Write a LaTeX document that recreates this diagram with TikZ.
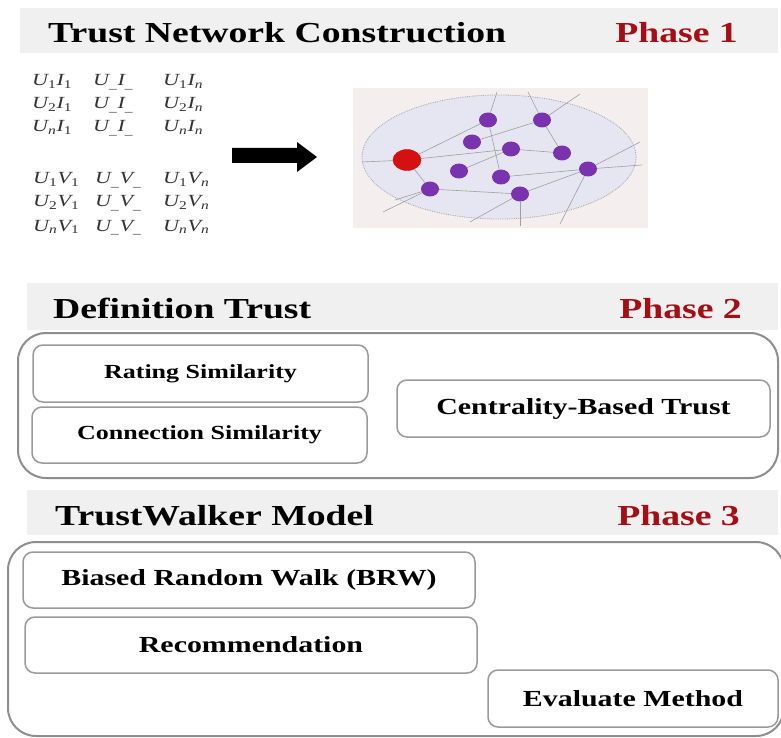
\documentclass[tikz,border=0pt]{standalone}
\usepackage{fontspec}
\setmainfont{Liberation Serif}
\usepackage{graphicx}
\usetikzlibrary{shapes.geometric}
\definecolor{barfill}{HTML}{F0F0F0}
\definecolor{phasered}{HTML}{A50E14}
\definecolor{framegray}{HTML}{8E8E8E}
\definecolor{boxline}{HTML}{9A9A9A}
\definecolor{netbg}{HTML}{F4EEEE}
\definecolor{netfill}{HTML}{E6E6F3}
\definecolor{dotpurple}{HTML}{7A33AE}
\definecolor{dotred}{HTML}{D41010}
\newcommand\sxt[2][1.3]{\scalebox{#1}[1]{#2}}
\newcommand\sbd[1]{\textsubscript{\upshape #1}}
\begin{document}
\begin{tikzpicture}[x=1pt,y=-1pt,
 bar/.style={fill=barfill, draw=none},
 head/.style={font=\fontsize{29}{34}\selectfont\bfseries, inner sep=0, anchor=base west},
 phase/.style={head, anchor=base east, text=phasered},
 stepbox/.style={draw=boxline, line width=1.5pt, rounded corners=10pt, fill=white, inner sep=0},
 smalltxt/.style={font=\fontsize{20}{24}\selectfont\bfseries},
 bigtxt/.style={font=\fontsize{23}{27}\selectfont\bfseries},
 outer/.style={draw=framegray, line width=2pt, rounded corners=28pt},
 mat/.style={font=\fontsize{17}{20}\selectfont\itshape, inner sep=0, anchor=base west, text=black!80},
 pdot/.style={ellipse, fill=dotpurple, minimum width=18pt, minimum height=15pt, inner sep=0},
 rdot/.style={ellipse, fill=dotred, draw=red!85!black, minimum width=28pt, minimum height=21pt, inner sep=0},
 edge/.style={draw=gray!75, line width=0.6pt}
]
\useasboundingbox (0,0) rectangle (781,738);
\clip (0,0) rectangle (781,738);
\fill[white] (0,0) rectangle (781,738);

% ---------- Phase 1 ----------
\fill[bar] (20,8) rectangle (778,53);
\node[head] (h1) at (48,43) {\sxt{Trust Network Construction}};
\node[phase] (ph1) at (738,43) {\sxt{Phase 1}};

% matrices
\node[mat] (a11) at (32,86)  {\sxt{U\sbd{1}I\sbd{1}}};
\node[mat] (a12) at (93,86)  {\sxt{U\textsubscript{\_}I\textsubscript{\_}}};
\node[mat] (a13) at (163,86) {\sxt{U\sbd{1}I\textsubscript{n}}};
\node[mat] (a21) at (32,109)  {\sxt{U\sbd{2}I\sbd{1}}};
\node[mat] (a22) at (93,109)  {\sxt{U\textsubscript{\_}I\textsubscript{\_}}};
\node[mat] (a23) at (163,109) {\sxt{U\sbd{2}I\textsubscript{n}}};
\node[mat] (a31) at (32,132)  {\sxt{U\textsubscript{n}I\sbd{1}}};
\node[mat] (a32) at (93,132)  {\sxt{U\textsubscript{\_}I\textsubscript{\_}}};
\node[mat] (a33) at (163,132) {\sxt{U\textsubscript{n}I\textsubscript{n}}};

\node[mat] (b11) at (33,184)  {\sxt{U\sbd{1}V\sbd{1}}};
\node[mat] (b12) at (95,184)  {\sxt{U\textsubscript{\_}V\textsubscript{\_}}};
\node[mat] (b13) at (163,184) {\sxt{U\sbd{1}V\textsubscript{n}}};
\node[mat] (b21) at (33,207)  {\sxt{U\sbd{2}V\sbd{1}}};
\node[mat] (b22) at (95,207)  {\sxt{U\textsubscript{\_}V\textsubscript{\_}}};
\node[mat] (b23) at (163,207) {\sxt{U\sbd{2}V\textsubscript{n}}};
\node[mat] (b31) at (33,231)  {\sxt{U\textsubscript{n}V\sbd{1}}};
\node[mat] (b32) at (95,231)  {\sxt{U\textsubscript{\_}V\textsubscript{\_}}};
\node[mat] (b33) at (163,231) {\sxt{U\textsubscript{n}V\textsubscript{n}}};

% big arrow
\fill[black] (232,148) -- (297,148) -- (297,142) -- (317,157) -- (297,172) -- (297,163) -- (232,163) -- cycle;

% network picture
\fill[netbg] (353,88) rectangle (648,228);
\draw[gray!70, densely dotted, line width=0.8pt, fill=netfill] (499,157) ellipse [x radius=137, y radius=62];

\coordinate (e1) at (497,92);
\coordinate (e2) at (580,94);
\coordinate (e3) at (528,92);
\coordinate (e4) at (642,165);
\coordinate (e5) at (640,142);
\coordinate (e6) at (383,212);
\coordinate (e7) at (395,200);
\coordinate (e8) at (520,226);
\coordinate (e9) at (470,222);
\coordinate (e10) at (362,162);
\coordinate (e11) at (560,224);

\path (407,160) node[rdot] (r) {};
\path (488,120) node[pdot] (p1) {}
      (542,120) node[pdot] (p2) {}
      (472,142) node[pdot] (p3) {}
      (511,149) node[pdot] (p4) {}
      (562,153) node[pdot] (p5) {}
      (459,171) node[pdot] (p6) {}
      (501,177) node[pdot] (p7) {}
      (588,169) node[pdot] (p8) {}
      (430,189) node[pdot] (p9) {}
      (520,194) node[pdot] (p10) {};

\draw[edge] (r) -- (p4);
\draw[edge] (r) -- (p1);
\draw[edge] (r) -- (p9);
\draw[edge] (r) -- (e10);
\draw[edge] (p1) -- (e1);
\draw[edge] (p1) -- (p7);
\draw[edge] (p2) -- (e2);
\draw[edge] (p2) -- (e3);
\draw[edge] (p2) -- (p3);
\draw[edge] (p2) -- (p5);
\draw[edge] (p4) -- (p5);
\draw[edge] (p4) -- (p6);
\draw[edge] (p7) -- (p8);
\draw[edge] (p8) -- (e4);
\draw[edge] (p8) -- (e5);
\draw[edge] (p9) -- (p10);
\draw[edge] (p9) -- (e6);
\draw[edge] (p9) -- (e7);
\draw[edge] (p10) -- (p8);
\draw[edge] (p10) -- (e8);
\draw[edge] (p10) -- (e9);
\draw[edge] (p8) -- (e11);

% ---------- Phase 2 ----------
\fill[bar] (27,283) rectangle (778,330);
\node[head] (h2) at (53,318) {\sxt{Definition Trust}};
\node[phase] (ph2) at (742,318) {\sxt{Phase 2}};
\draw[outer] (18,333) rectangle (778,478);
\node[stepbox, smalltxt, minimum width=335pt, minimum height=57pt] (rs) at (200.5,373.5) {\sxt{Rating Similarity}};
\node[stepbox, smalltxt, minimum width=335pt, minimum height=56pt] (cs) at (199.5,435) {\sxt{Connection Similarity}};
\node[stepbox, bigtxt, minimum width=373pt, minimum height=57pt] (cb) at (583.5,408.5) {\sxt{Centrality-Based Trust}};

% ---------- Phase 3 ----------
\fill[bar] (27,490) rectangle (778,535);
\node[head] (h3) at (55,525) {\sxt{TrustWalker Model}};
\node[phase] (ph3) at (740,525) {\sxt{Phase 3}};
\draw[outer] (8,542) rectangle (784,736);
\node[stepbox, bigtxt, minimum width=452pt, minimum height=56pt] (brw) at (249,580) {\sxt{Biased Random Walk (BRW)}};
\node[stepbox, bigtxt, minimum width=452pt, minimum height=56pt] (rec) at (251,645) {\sxt{Recommendation}};
\node[stepbox, bigtxt, minimum width=290pt, minimum height=57pt] (ev) at (633,698.5) {\sxt{Evaluate Method}};
\end{tikzpicture}
\end{document}
